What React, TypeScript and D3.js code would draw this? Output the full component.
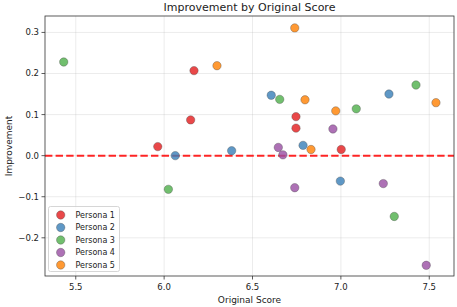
import React from 'react';
import * as d3 from 'd3';

const personas = ['Persona 1', 'Persona 2', 'Persona 3', 'Persona 4', 'Persona 5'];
const colors = ['#e41a1c', '#377eb8', '#4daf4a', '#984ea3', '#ff7f00'];

// original score / improvement per persona
const p1Score = [6.169, 6.15, 5.964, 6.746, 6.746, 7.002];
const p1Impr = [0.207, 0.087, 0.022, 0.095, 0.067, 0.015];
const p2Score = [6.063, 6.382, 6.606, 7.272, 6.786, 6.997];
const p2Impr = [0.0, 0.012, 0.147, 0.15, 0.025, -0.062];
const p3Score = [5.432, 6.654, 7.087, 7.425, 6.024, 7.302];
const p3Impr = [0.228, 0.137, 0.114, 0.172, -0.082, -0.148];
const p4Score = [6.955, 6.646, 6.672, 7.24, 6.739, 7.483];
const p4Impr = [0.065, 0.02, 0.002, -0.068, -0.078, -0.267];
const p5Score = [6.299, 6.739, 6.797, 6.971, 7.538, 6.831];
const p5Impr = [0.219, 0.311, 0.136, 0.109, 0.129, 0.015];

const xTicks = [5.5, 6.0, 6.5, 7.0, 7.5];
const yTicks = [-0.2, -0.1, 0.0, 0.1, 0.2, 0.3];

const scores = [p1Score, p2Score, p3Score, p4Score, p5Score];
const imprs = [p1Impr, p2Impr, p3Impr, p4Impr, p5Impr];

export default function App() {
  const width = 457;
  const height = 307;
  const margin = { top: 16, right: 3, bottom: 31, left: 45 };
  const font = 'DejaVu Sans, sans-serif';

  const x = d3.scaleLinear().domain([5.326, 7.64]).range([margin.left, width - margin.right]);
  const y = d3.scaleLinear().domain([-0.293, 0.34]).range([height - margin.bottom, margin.top]);

  const [x0, x1] = x.range();
  const [y1, y0] = y.range();

  return (
    <svg width={width} height={height} style={{ position: 'absolute', left: 0, top: 0, background: '#fff' }}>
      {/* grid */}
      {xTicks.map(t => (
        <line key={'gx' + t} x1={x(t)} x2={x(t)} y1={y0} y2={y1} stroke="#b0b0b0" strokeOpacity={0.3} strokeWidth={0.8} />
      ))}
      {yTicks.map(t => (
        <line key={'gy' + t} x1={x0} x2={x1} y1={y(t)} y2={y(t)} stroke="#b0b0b0" strokeOpacity={0.3} strokeWidth={0.8} />
      ))}

      {/* zero line */}
      <line x1={x0} x2={x1} y1={y(0)} y2={y(0)} stroke="#ff0000" strokeOpacity={0.85} strokeWidth={2} strokeDasharray="7.4,3.2" />

      {/* points */}
      {personas.map((p, i) =>
        scores[i].map((s, j) => (
          <circle key={p + j} cx={x(s)} cy={y(imprs[i][j])} r={4.2}
            fill={colors[i]} fillOpacity={0.8} stroke="#444" strokeOpacity={0.7} strokeWidth={0.5} />
        ))
      )}

      {/* spines */}
      <rect x={x0} y={y0} width={x1 - x0} height={y1 - y0} fill="none" stroke="#333" strokeWidth={0.8} />

      {/* x axis */}
      {xTicks.map(t => (
        <g key={'tx' + t}>
          <line x1={x(t)} x2={x(t)} y1={y1} y2={y1 + 3.5} stroke="#333" strokeWidth={0.8} />
          <text x={x(t)} y={y1 + 14} textAnchor="middle" fontFamily={font} fontSize={8.5} fill="#222">{t.toFixed(1)}</text>
        </g>
      ))}
      <text x={(x0 + x1) / 2} y={303} textAnchor="middle" fontFamily={font} fontSize={9} fill="#222">Original Score</text>

      {/* y axis */}
      {yTicks.map(t => (
        <g key={'ty' + t}>
          <line x1={x0 - 3.5} x2={x0} y1={y(t)} y2={y(t)} stroke="#333" strokeWidth={0.8} />
          <text x={x0 - 6} y={y(t)} dy="0.35em" textAnchor="end" fontFamily={font} fontSize={8.5} fill="#222">
            {t < 0 ? '\u2212' + Math.abs(t).toFixed(1) : t.toFixed(1)}
          </text>
        </g>
      ))}
      <text transform={`translate(12,${(y0 + y1) / 2}) rotate(-90)`} textAnchor="middle" fontFamily={font} fontSize={9} fill="#222">Improvement</text>

      {/* title */}
      <text x={(x0 + x1) / 2} y={11} textAnchor="middle" fontFamily={font} fontSize={11} fill="#222">Improvement by Original Score</text>

      {/* legend */}
      <g>
        <rect x={48.5} y={206.5} width={71} height={65} rx={2} fill="#fff" fillOpacity={0.8} stroke="#ccc" strokeWidth={0.8} />
        {personas.map((p, i) => (
          <g key={'lg' + p} transform={`translate(0,${215 + i * 12.5})`}>
            <circle cx={60.7} cy={0} r={4.2} fill={colors[i]} fillOpacity={0.8} stroke="#444" strokeOpacity={0.7} strokeWidth={0.5} />
            <text x={75.5} y={0} dy="0.35em" fontFamily={font} fontSize={8} fill="#222">{p}</text>
          </g>
        ))}
      </g>
    </svg>
  );
}
